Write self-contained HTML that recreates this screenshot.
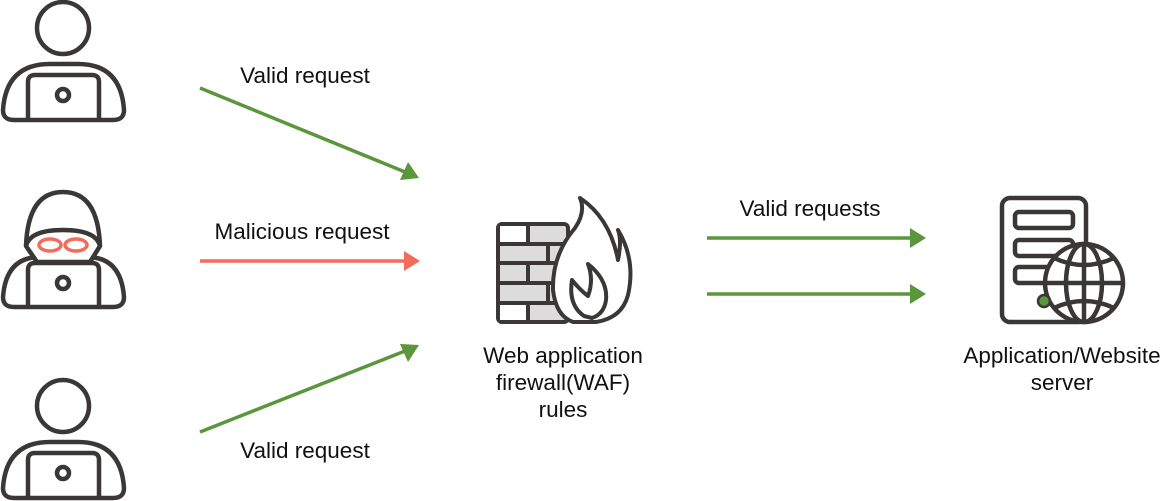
<!DOCTYPE html>
<html><head><meta charset="utf-8"><style>
html,body{margin:0;padding:0;background:#fff;}
svg{display:block;}
text{font-family:"Liberation Sans",sans-serif;font-size:22.5px;fill:#111;}
</style></head><body>
<svg width="1172" height="501" viewBox="0 0 1172 501" xmlns="http://www.w3.org/2000/svg">
<defs>
<g id="user" fill="none" stroke="#3a3736" stroke-width="4.5" stroke-linejoin="round">
  <circle cx="63" cy="28" r="26"/>
  <path d="M14 120 Q3 120 3 110 Q6 64 50 64 L78 64 Q121 64 124 110 Q124 120 113 120 Z"/>
  <path d="M28 120 L28 82 Q28 75 35 75 L92 75 Q99 75 99 82 L99 120"/>
  <circle cx="63" cy="95" r="6"/>
</g>
</defs>
<use href="#user"/>
<use href="#user" transform="translate(0,378)"/>
<!-- hacker -->
<g fill="none" stroke="#3a3736" stroke-width="4.5" stroke-linejoin="round">
  <path d="M14 307 Q3 307 3 297 Q6 257 40 257 L87 257 Q121 257 124 297 Q124 307 113 307 Z"/>
  <path d="M28 307 L28 270 Q28 263 35 263 L92 263 Q99 263 99 270 L99 307"/>
  <circle cx="63" cy="283" r="6"/>
  <path d="M26 246 Q28 192 63 192 Q98 192 100 246 L90 262 L37 262 Z" fill="#fff"/>
  <path d="M26 246 Q30 230 63 230 Q96 230 100 246"/>
</g>
<g fill="none" stroke="#f26b5b" stroke-width="3.5">
  <ellipse cx="50" cy="245" rx="11" ry="6"/>
  <ellipse cx="76" cy="245" rx="11" ry="6"/>
</g>
<!-- arrows -->
<g stroke-width="3.5">
  <line x1="200" y1="88" x2="405" y2="172" stroke="#5a963c"/>
  <polygon points="419,178 400,180 408,162" fill="#5a963c"/>
  <line x1="200" y1="261" x2="404" y2="261" stroke="#f26b5b"/>
  <polygon points="420,261 404,251 404,271" fill="#f26b5b"/>
  <line x1="200" y1="432" x2="405" y2="351" stroke="#5a963c"/>
  <polygon points="419,345 408,362 400,344" fill="#5a963c"/>
  <line x1="707" y1="238" x2="910" y2="238" stroke="#5a963c"/>
  <polygon points="926,238 910,228 910,248" fill="#5a963c"/>
  <line x1="707" y1="294" x2="910" y2="294" stroke="#5a963c"/>
  <polygon points="926,294 910,284 910,304" fill="#5a963c"/>
</g>
<!-- firewall -->
<g stroke="#3a3736" stroke-width="4">
  <rect x="498" y="224" width="70" height="98" rx="4" fill="#dcdcdc"/>
  <rect x="500" y="226" width="28" height="17" fill="#fff" stroke="none"/>
  <rect x="500" y="305" width="28" height="15" fill="#fff" stroke="none"/>
  <line x1="498" y1="244" x2="570" y2="244"/>
  <line x1="498" y1="263" x2="570" y2="263"/>
  <line x1="498" y1="283" x2="570" y2="283"/>
  <line x1="498" y1="303" x2="570" y2="303"/>
  <line x1="528" y1="224" x2="528" y2="244"/>
  <line x1="548" y1="244" x2="548" y2="263"/>
  <line x1="528" y1="263" x2="528" y2="283"/>
  <line x1="548" y1="283" x2="548" y2="303"/>
  <line x1="528" y1="303" x2="528" y2="322"/>
  <path d="M573 322 Q556 316 553 290 Q552 255 575 228 Q586 212 580 198 Q610 218 618 260 Q622 240 618 230 Q636 260 628 295 Q622 318 596 322 Z M584 316 Q568 305 572 280 Q580 290 588 296 Q594 280 588 264 Q608 280 606 300 Q604 314 592 318 Z" fill="#fff" fill-rule="evenodd" stroke-linejoin="round"/>
</g>
<!-- server -->
<g fill="none" stroke="#3a3736" stroke-width="4.5">
  <rect x="1002" y="198" width="84" height="124" rx="8" fill="#fff"/>
  <rect x="1015" y="212" width="58" height="16" rx="4"/>
  <rect x="1015" y="240" width="58" height="16" rx="4"/>
  <rect x="1015" y="267" width="58" height="16" rx="4"/>
  <circle cx="1084" cy="283" r="39" fill="#fff"/>
  <ellipse cx="1084" cy="283" rx="18" ry="39"/>
  <line x1="1084" y1="244" x2="1084" y2="322"/>
  <line x1="1045" y1="283" x2="1123" y2="283"/>
  <path d="M1054 258 Q1084 272 1114 258"/>
  <path d="M1054 308 Q1084 294 1114 308"/>
</g>
<circle cx="1044" cy="301" r="6" fill="#5a963c" stroke="#3a3736" stroke-width="2.5"/>
<!-- labels -->
<text x="305" y="83" text-anchor="middle">Valid request</text>
<text x="302" y="239" text-anchor="middle">Malicious request</text>
<text x="305" y="458" text-anchor="middle">Valid request</text>
<text x="810" y="216" text-anchor="middle">Valid requests</text>
<text x="563" y="363" text-anchor="middle">Web application</text>
<text x="563" y="390" text-anchor="middle">firewall(WAF)</text>
<text x="563" y="417" text-anchor="middle">rules</text>
<text x="1062" y="363" text-anchor="middle">Application/Website</text>
<text x="1062" y="390" text-anchor="middle">server</text>
</svg>
</body></html>
